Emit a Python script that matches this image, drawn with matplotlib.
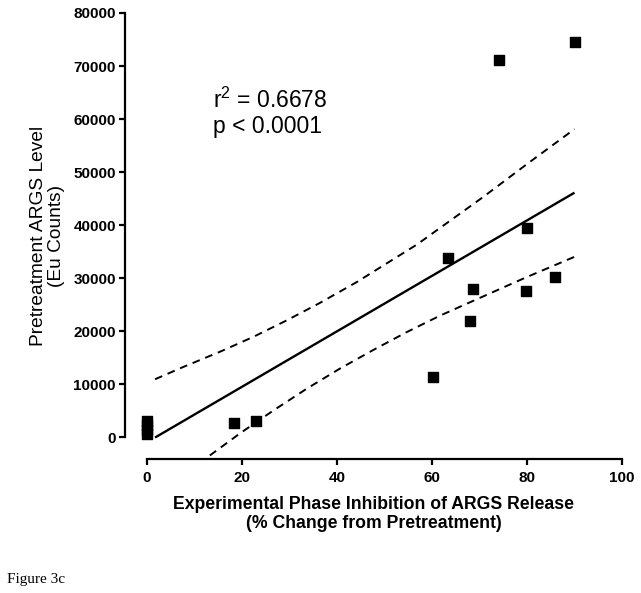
import matplotlib
matplotlib.use("Agg")
import matplotlib.pyplot as plt

plt.rcParams['font.family'] = ['Liberation Sans', 'DejaVu Sans']
plt.rcParams['mathtext.fontset'] = 'custom'
plt.rcParams['mathtext.rm'] = 'Liberation Sans'
plt.rcParams['mathtext.it'] = 'Liberation Sans'

# Data points (% inhibition, pretreatment ARGS level)
x_pts = [0, 0, 0, 0, 18.3, 22.9, 60.3, 63.4, 68.0, 68.7, 74.2, 79.7, 79.9, 85.9, 90.1]
y_pts = [600, 1400, 2200, 3000, 2600, 3000, 11400, 33700, 21900, 27900, 71100, 27600, 39500, 30100, 74600]

# Regression line and 95% confidence bands
fit_x = [1.7, 90]
fit_y = [-100, 46100]
upper_x = [1.7, 7.6, 15.4, 22.4, 29.4, 36.4, 44.1, 56.8, 70.8, 80, 90]
upper_y = [10900, 13200, 16100, 18900, 22000, 25300, 29200, 36300, 45300, 51500, 58100]
lower_x = [1.7, 12.9, 19.6, 26.6, 33.6, 40.6, 47.6, 54.7, 61.7, 68.7, 79.5, 90]
lower_y = [-11100, -3700, 700, 5000, 9100, 12900, 16400, 19800, 22900, 25700, 30000, 34000]

x_ticks = [0, 20, 40, 60, 80, 100]
y_ticks = [0, 10000, 20000, 30000, 40000, 50000, 60000, 70000, 80000]

fig = plt.figure(figsize=(6.41, 5.93), dpi=100)
ax = fig.add_axes([125/641, 1-459/593, (622-125)/641, (459-13)/593])
ax.set_xlim(-4.63, 100)
ax.set_ylim(-4150, 80000)

ax.plot(fit_x, fit_y, color='black', lw=1.7, solid_capstyle='butt')
ax.plot(upper_x, upper_y, color='black', lw=1.4, linestyle=(0, (4, 3)))
ax.plot(lower_x, lower_y, color='black', lw=1.4, linestyle=(0, (4, 3)))
ax.scatter(x_pts, y_pts, marker='s', s=50, color='black', zorder=3, clip_on=False)

for s in ['top', 'right']:
    ax.spines[s].set_visible(False)
ax.spines['left'].set_bounds(0, 80000)
ax.spines['bottom'].set_bounds(0, 100)
for s in ['left', 'bottom']:
    ax.spines[s].set_linewidth(1.6)

ax.set_xticks(x_ticks)
ax.set_yticks(y_ticks)
ax.set_xticklabels([str(t) for t in x_ticks], fontweight='bold', fontsize=11)
ax.set_yticklabels([str(t) for t in y_ticks], fontweight='bold', fontsize=11)
ax.tick_params(axis='x', direction='out', length=4.5, width=1.6, pad=4)
ax.tick_params(axis='y', direction='out', length=4.5, width=1.6, pad=2)

ax.set_xlabel('Experimental Phase Inhibition of ARGS Release\n(% Change from Pretreatment)',
              fontweight='bold', fontsize=12.7, labelpad=8, linespacing=1.15)
ax.set_ylabel('Pretreatment ARGS Level\n(Eu Counts)', fontsize=13.8, labelpad=6, linespacing=1.1)

ax.text(13.9, 66000, 'r$^{2}$ = 0.6678\np < 0.0001', fontsize=16.5, va='top', ha='left',
        linespacing=1.15)

fig.text(7/641, 1-583/593, 'Figure 3c', family='Liberation Serif', fontsize=11,
         ha='left', va='baseline')

fig.savefig('out.png', dpi=100)
